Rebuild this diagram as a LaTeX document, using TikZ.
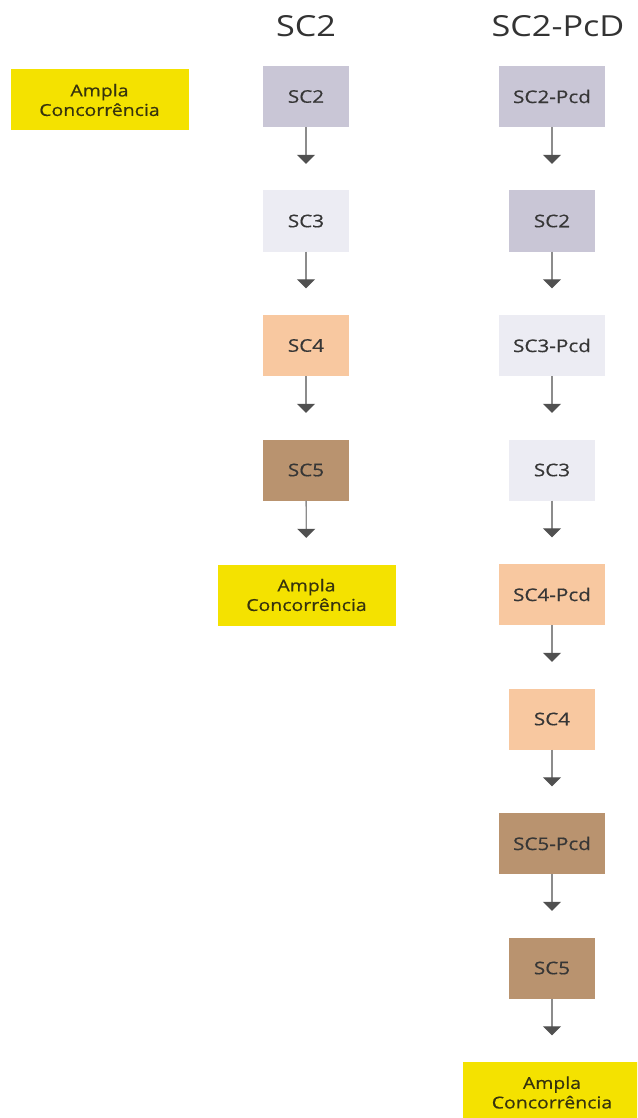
\documentclass[tikz,border=0pt]{standalone}
\usepackage{fontspec}
\setmainfont{Open Sans}[FakeStretch=1.18]
\newfontfamily\boxfont{Open Sans}[FakeStretch=1.18,FakeBold=0.5]
\usetikzlibrary{arrows.meta}
\definecolor{lav}{HTML}{C9C6D6}
\definecolor{pale}{HTML}{ECECF3}
\definecolor{peach}{HTML}{F8C8A0}
\definecolor{brown}{HTML}{B9936F}
\definecolor{amplay}{HTML}{F4E200}
\definecolor{boxtext}{HTML}{363636}
\definecolor{amplatext}{HTML}{36330E}
\definecolor{hdrtext}{HTML}{333333}
\definecolor{linegray}{HTML}{8C8C8C}
\definecolor{tipgray}{HTML}{505050}
\begin{document}
\begin{tikzpicture}[x=1pt,y=-1pt,
  box/.style={fill=#1, minimum width=86pt, minimum height=61pt, inner sep=0pt,
    text=boxtext, font=\boxfont\fontsize{17.5}{20}\selectfont},
  wbox/.style={box=#1, minimum width=106pt},
  ampla/.style={fill=amplay, minimum width=178pt, minimum height=61pt, inner sep=0pt,
    text=amplatext, align=center, font=\boxfont\fontsize{16.5}{19.5}\selectfont},
  hdr/.style={anchor=base, text=hdrtext, font=\fontsize{29}{34}\selectfont},
  arr/.style={draw=linegray, line width=1.3pt,
    -{Triangle[width=18pt,length=9pt,color=tipgray]}, shorten >=26.5pt}
]
\useasboundingbox (0,0) rectangle (637,1118);
\clip (0,0) rectangle (637,1118);

\node[hdr] (h1) at (306,37) {SC2};
\node[hdr] (h2) at (558,37) {SC2-PcD};

\node[ampla] (a0) at (99.5,100) {Ampla\\Concorrência};

% column 1
\node[box=lav]   (c1a) at (306,96.5)  {SC2};
\node[box=pale]  (c1b) at (306,221)   {SC3};
\node[box=peach] (c1c) at (306,345.5) {SC4};
\node[box=brown] (c1d) at (306,470)   {SC5};
\node[ampla]     (c1e) at (306.5,595) {Ampla\\Concorrência};
\draw[arr] (c1a) -- (c1b);
\draw[arr] (c1b) -- (c1c);
\draw[arr] (c1c) -- (c1d);
\draw[arr] (c1d) -- (c1e);

% column 2
\node[wbox=lav]   (c2a) at (552,96.5)  {SC2-Pcd};
\node[box=lav]    (c2b) at (552,221)   {SC2};
\node[wbox=pale]  (c2c) at (552,345.5) {SC3-Pcd};
\node[box=pale]   (c2d) at (552,470)   {SC3};
\node[wbox=peach] (c2e) at (552,594.5) {SC4-Pcd};
\node[box=peach]  (c2f) at (552,719)   {SC4};
\node[wbox=brown] (c2g) at (552,843.5) {SC5-Pcd};
\node[box=brown]  (c2h) at (552,968)   {SC5};
\node[ampla]      (c2i) at (552,1092.5) {Ampla\\Concorrência};
\draw[arr] (c2a) -- (c2b);
\draw[arr] (c2b) -- (c2c);
\draw[arr] (c2c) -- (c2d);
\draw[arr] (c2d) -- (c2e);
\draw[arr] (c2e) -- (c2f);
\draw[arr] (c2f) -- (c2g);
\draw[arr] (c2g) -- (c2h);
\draw[arr] (c2h) -- (c2i);
\end{tikzpicture}
\end{document}
